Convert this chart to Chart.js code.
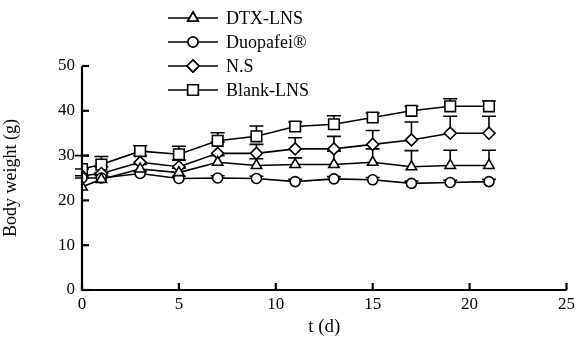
<!DOCTYPE html>
<html>
<head>
<meta charset="utf-8">
<script src="https://cdn.jsdelivr.net/npm/chart.js@4/dist/chart.umd.min.js"></script>
<style>
  html, body { margin: 0; padding: 0; background: #fff; }
  #wrap { width: 579px; height: 342px; position: relative; }
</style>
</head>
<body>
<div id="wrap"><canvas id="myChart"></canvas></div>
<script>
// days of measurement
const days = [0, 1, 3, 5, 7, 9, 11, 13, 15, 17, 19, 21];

// body weight (g)
const dtxLns   = [23, 24.7, 27, 26.2, 28.5, 27.8, 28, 28, 28.5, 27.5, 27.8, 27.8];
const duopafei = [25, 25, 26, 24.9, 25, 24.9, 24.2, 24.8, 24.6, 23.8, 24, 24.2];
const ns       = [25.5, 26, 28.5, 27.5, 30.5, 30.5, 31.5, 31.5, 32.5, 33.5, 35, 35];
const blankLns = [27, 28, 31, 30.3, 33.3, 34.3, 36.5, 37, 38.5, 40, 41, 41];

// upper error bars (SD)
const dtxErr      = [2, 1.5, 1, 1, 1.5, 1.5, 1.5, 3, 3, 3.6, 3.4, 3.4];
const duopafeiErr = [0.5, 0.5, 0.5, 0.5, 0.5, 0.5, 0.5, 0.5, 0.5, 0.5, 0.5, 0.5];
const nsErr       = [1.5, 1.5, 1.5, 1.5, 2.5, 2, 2.5, 2.8, 3.1, 4, 3.8, 3.8];
const blankErr    = [3, 1.8, 1.2, 1.8, 1.8, 2.3, 1, 1.9, 1, 1, 1.7, 1.2];

const xTicks = [0, 5, 10, 15, 20, 25];
const yTicks = [0, 10, 20, 30, 40, 50];

const seriesNames = ["DTX-LNS", "Duopafei\u00AE", "N.S", "Blank-LNS"];
const seriesStyles = ["triangle", "circle", "rectRot", "rect"];
const seriesRadius = [6, 5, 6, 7.5];

const FONT = "'Liberation Serif', 'Times New Roman', serif";

function toPoints(vals) {
  return days.map((d, i) => ({ x: d, y: vals[i] }));
}

function makeSet(i, vals, errs) {
  return {
    label: seriesNames[i],
    data: toPoints(vals),
    errors: errs,
    borderColor: "#000",
    borderWidth: 1.6,
    backgroundColor: "#fff",
    pointStyle: seriesStyles[i],
    pointRadius: seriesRadius[i],
    pointBorderWidth: 1.6,
    pointBackgroundColor: "#fff",
    pointBorderColor: "#000",
    tension: 0,
    fill: false,
  };
}

// error bars pointing upward only
const errorBars = {
  id: "errorBars",
  beforeDatasetsDraw(chart) {
    const ctx = chart.ctx;
    const xs = chart.scales.x;
    const ys = chart.scales.y;
    ctx.save();
    ctx.strokeStyle = "#000";
    ctx.lineWidth = 1.6;
    chart.data.datasets.forEach((ds) => {
      ds.data.forEach((p, i) => {
        const e = ds.errors[i];
        if (!e) return;
        const px = xs.getPixelForValue(p.x);
        const y0 = ys.getPixelForValue(p.y);
        const y1 = ys.getPixelForValue(p.y + e);
        ctx.beginPath();
        ctx.moveTo(px, y0);
        ctx.lineTo(px, y1);
        ctx.moveTo(px - 7, y1);
        ctx.lineTo(px + 7, y1);
        ctx.stroke();
      });
    });
    ctx.restore();
  },
};

// axis lines with inward tick marks
const axesInside = {
  id: "axesInside",
  afterDraw(chart) {
    const ctx = chart.ctx;
    const xs = chart.scales.x;
    const ys = chart.scales.y;
    const a = chart.chartArea;
    ctx.save();
    ctx.strokeStyle = "#000";
    ctx.lineWidth = 2.2;
    ctx.beginPath();
    ctx.moveTo(a.left, a.top);
    ctx.lineTo(a.left, a.bottom);
    ctx.lineTo(a.right, a.bottom);
    ctx.stroke();
    yTicks.forEach((v) => {
      const py = ys.getPixelForValue(v);
      ctx.beginPath();
      ctx.moveTo(a.left, py);
      ctx.lineTo(a.left + 7, py);
      ctx.stroke();
    });
    xTicks.forEach((v) => {
      const px = xs.getPixelForValue(v);
      ctx.beginPath();
      ctx.moveTo(px, a.bottom);
      ctx.lineTo(px, a.bottom - 7);
      ctx.stroke();
    });
    ctx.restore();
  },
};

// legend: line with marker, then label
const lineLegend = {
  id: "lineLegend",
  afterDraw(chart) {
    const ctx = chart.ctx;
    ctx.save();
    chart.data.datasets.forEach((ds, i) => {
      const y = 18 + i * 24;
      ctx.strokeStyle = "#000";
      ctx.lineWidth = 1.6;
      ctx.beginPath();
      ctx.moveTo(168, y);
      ctx.lineTo(218, y);
      ctx.stroke();
      ctx.fillStyle = "#fff";
      Chart.helpers.drawPoint(ctx, {
        pointStyle: ds.pointStyle,
        radius: ds.pointRadius,
        borderWidth: 1.6,
      }, 193, y);
      ctx.fill();
      ctx.stroke();
      ctx.fillStyle = "#000";
      ctx.font = "18px " + FONT;
      ctx.textBaseline = "middle";
      ctx.fillText(ds.label, 226, y + 1);
    });
    ctx.restore();
  },
};

const ctx = document.getElementById("myChart").getContext("2d");
new Chart(ctx, {
  type: "line",
  data: {
    datasets: [
      makeSet(0, dtxLns, dtxErr),
      makeSet(1, duopafei, duopafeiErr),
      makeSet(2, ns, nsErr),
      makeSet(3, blankLns, blankErr),
    ],
  },
  options: {
    responsive: true,
    maintainAspectRatio: false,
    animation: false,
    layout: { padding: { top: 66, right: 11, left: 0, bottom: 0 } },
    plugins: {
      legend: { display: false },
      tooltip: { enabled: false },
    },
    scales: {
      x: {
        type: "linear",
        min: 0,
        max: 25,
        afterBuildTicks: (s) => { s.ticks = xTicks.map((v) => ({ value: v })); },
        afterFit: (s) => { s.height = 52; },
        grid: { display: false, drawTicks: false },
        border: { display: false },
        ticks: { color: "#000", padding: 4, font: { family: FONT, size: 17 } },
        title: {
          display: true,
          text: "t (d)",
          color: "#000",
          padding: { top: 2 },
          font: { family: FONT, size: 19 },
        },
      },
      y: {
        min: 0,
        max: 50,
        afterBuildTicks: (s) => { s.ticks = yTicks.map((v) => ({ value: v })); },
        afterFit: (s) => { s.width = 82; },
        grid: { display: false, drawTicks: false },
        border: { display: false },
        ticks: { color: "#000", padding: 7, font: { family: FONT, size: 17 } },
        title: {
          display: true,
          text: "Body weight (g)",
          color: "#000",
          padding: { top: 0, bottom: 0 },
          font: { family: FONT, size: 18 },
        },
      },
    },
  },
  plugins: [errorBars, axesInside, lineLegend],
});
</script>
</body>
</html>
